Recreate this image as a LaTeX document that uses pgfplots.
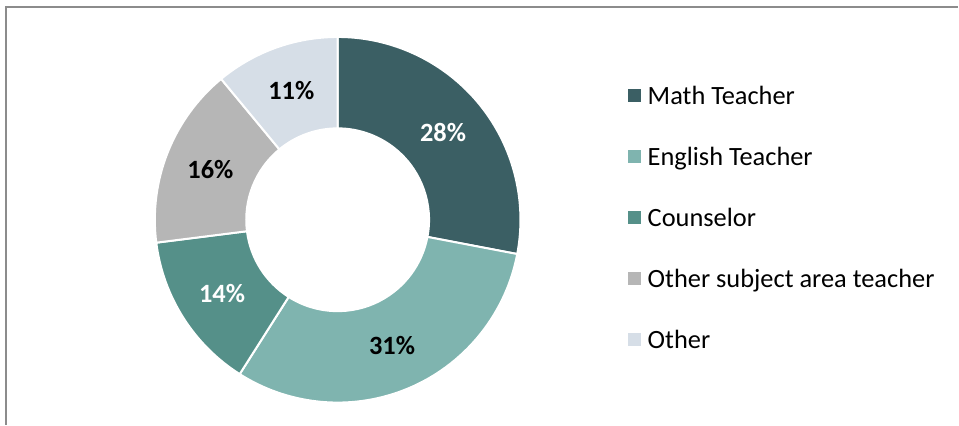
\documentclass[border=0pt]{standalone}
\usepackage{pgfplots}
\usepackage{pgfplotstable}
\usepackage{fontspec}
\setmainfont{Carlito}
\pgfplotsset{compat=1.18}

\definecolor{cMath}{HTML}{3B5F64}
\definecolor{cEng}{HTML}{7FB4AF}
\definecolor{cCoun}{HTML}{559089}
\definecolor{cOsub}{HTML}{B6B6B6}
\definecolor{cOther}{HTML}{D6DEE7}
\definecolor{cFrame}{HTML}{8C8C8C}

\pgfplotstableread{
value
28
31
14
16
11
}\donut

% outer / inner radius and centre (in bp = axis units)
\newcommand\cx{338}
\newcommand\cy{205}
\newcommand\Ro{183}
\newcommand\Ri{91.5}
\newcommand\Rl{137}

\newcommand\slice[3]{%
  \fill[#3, draw=white, line width=2bp]
    ([shift={(#1:\Ro bp)}]axis cs:\cx,\cy)
    arc[start angle=#1, end angle=#2, radius=\Ro bp]
    -- ([shift={(#2:\Ri bp)}]axis cs:\cx,\cy)
    arc[start angle=#2, end angle=#1, radius=\Ri bp] -- cycle;
}

\begin{document}
\begin{tikzpicture}
\pgfplotstablegetelem{0}{value}\of\donut \let\vA\pgfplotsretval
\pgfplotstablegetelem{1}{value}\of\donut \let\vB\pgfplotsretval
\pgfplotstablegetelem{2}{value}\of\donut \let\vC\pgfplotsretval
\pgfplotstablegetelem{3}{value}\of\donut \let\vD\pgfplotsretval
\pgfplotstablegetelem{4}{value}\of\donut \let\vE\pgfplotsretval
\pgfmathsetmacro\aA{90}
\pgfmathsetmacro\aB{\aA-3.6*\vA}
\pgfmathsetmacro\aC{\aB-3.6*\vB}
\pgfmathsetmacro\aD{\aC-3.6*\vC}
\pgfmathsetmacro\aE{\aD-3.6*\vD}
\pgfmathsetmacro\aF{\aE-3.6*\vE}
\pgfmathsetmacro\mA{(\aA+\aB)/2}
\pgfmathsetmacro\mB{(\aB+\aC)/2}
\pgfmathsetmacro\mC{(\aC+\aD)/2}
\pgfmathsetmacro\mD{(\aD+\aE)/2}
\pgfmathsetmacro\mE{(\aE+\aF)/2}
\begin{axis}[
  x=1bp, y=1bp,
  xmin=0, xmax=959, ymin=0, ymax=425,
  hide axis,
  clip=false,
  legend image code/.code={\fill[#1, draw=none] (0bp,-6.5bp) rectangle (13bp,6.5bp); \path (20bp,0bp);},
  legend cell align=left,
  legend style={
    draw=none, fill=none,
    at={(axis cs:628,360)}, anchor=north west,
    font=\fontsize{26.5}{30}\selectfont,
    inner sep=0pt, row sep=0pt,
    nodes={inner sep=0pt, minimum height=61bp, text depth=0pt},
  },
]
\path (axis cs:0,0) rectangle (axis cs:959,425);
\draw[cFrame, line width=2bp] (axis cs:6.5,0) -- (axis cs:6.5,418) -- (axis cs:959,418);

\slice{\aA}{\aB}{cMath}
\slice{\aB}{\aC}{cEng}
\slice{\aC}{\aD}{cCoun}
\slice{\aD}{\aE}{cOsub}
\slice{\aE}{\aF}{cOther}

\node[white, font=\fontsize{26.5}{30}\selectfont\bfseries] at ([shift={(\mA:\Rl bp)}]axis cs:\cx,\cy) {\vA\%};
\node[black, font=\fontsize{26.5}{30}\selectfont\bfseries] at ([shift={(\mB:\Rl bp)}]axis cs:\cx,\cy) {\vB\%};
\node[white, font=\fontsize{26.5}{30}\selectfont\bfseries] at ([shift={(\mC:\Rl bp)}]axis cs:\cx,\cy) {\vC\%};
\node[black, font=\fontsize{26.5}{30}\selectfont\bfseries] at ([shift={(\mD:\Rl bp)}]axis cs:\cx,\cy) {\vD\%};
\node[black, font=\fontsize{26.5}{30}\selectfont\bfseries] at ([shift={(\mE:\Rl bp)}]axis cs:\cx,\cy) {\vE\%};

\addlegendimage{fill=cMath}\addlegendentry{Math Teacher}
\addlegendimage{fill=cEng}\addlegendentry{English Teacher}
\addlegendimage{fill=cCoun}\addlegendentry{Counselor}
\addlegendimage{fill=cOsub}\addlegendentry{Other subject area teacher}
\addlegendimage{fill=cOther}\addlegendentry{Other}
\end{axis}
\end{tikzpicture}
\end{document}
